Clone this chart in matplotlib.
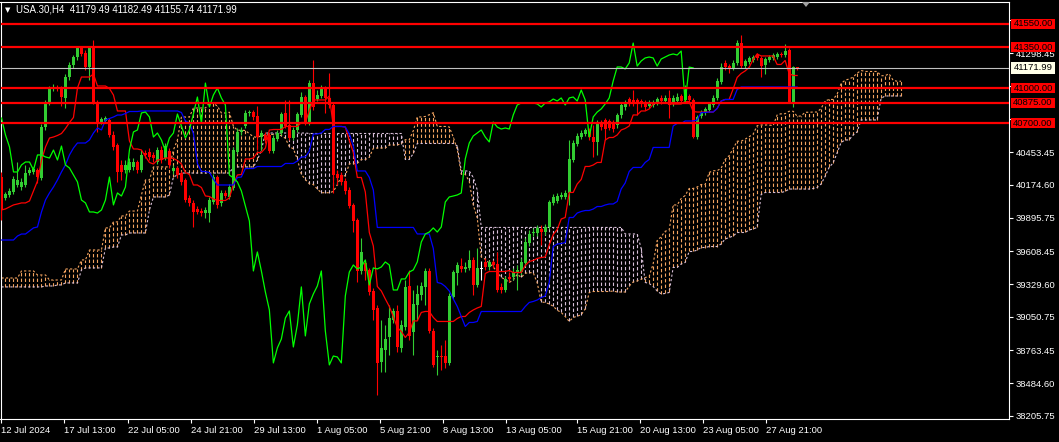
import numpy as np
import pandas as pd
import matplotlib
matplotlib.use("Agg")
import matplotlib.pyplot as plt
import matplotlib.transforms as mtransforms
from matplotlib.patches import Rectangle, Polygon

plt.rcParams['font.family'] = ['Liberation Sans', 'DejaVu Sans']

# USA.30 H4 bars
opens = [40242, 40063, 40089, 40114, 40174, 40157, 40174, 40276, 40285, 40302,
         40234, 40668, 40873, 40992, 41009, 41001, 40916, 41095, 41197, 41265,
         41342, 41299, 41180, 41350, 40882, 40711, 40720, 40728, 40600, 40515,
         40345, 40302, 40302, 40328, 40370, 40302, 40447, 40455, 40430, 40370,
         40472, 40404, 40464, 40293, 40319, 40276, 40217, 40063, 40021, 39970,
         39952, 39935, 39935, 40029, 40242, 40021, 40106, 40072, 40148, 40455,
         40626, 40677, 40788, 40796, 40762, 40583, 40600, 40600, 40464, 40566,
         40617, 40788, 40685, 40575, 40643, 40771, 40924, 40703, 41043, 40907,
         40933, 40992, 40916, 40856, 40268, 40259, 40208, 40131, 40004, 39876,
         39441, 39509, 39450, 39270, 39126, 38665, 38768, 38878, 39023, 39100,
         38785, 38964, 39313, 38921, 39151, 39236, 39305, 39441, 38930, 38708,
         38716, 38716, 38657, 39219, 39424, 39484, 39458, 39467, 39535, 39322,
         39458, 39518, 39475, 39518, 39501, 39305, 39279, 39390, 39390, 39424,
         39432, 39509, 39680, 39765, 39765, 39799, 39773, 39816, 40021, 40038,
         40072, 40072, 40106, 40387, 40524, 40583, 40609, 40634, 40583, 40541,
         40711, 40728, 40720, 40711, 40685, 40771, 40839, 40907, 40899, 40899,
         40890, 40873, 40847, 40856, 40873, 40916, 40890, 40916, 40865, 40890,
         40933, 40899, 40933, 40899, 40583, 40762, 40788, 40813, 40856, 40916,
         41052, 41214, 41188, 41171, 41214, 41384, 41188, 41222, 41240, 41282,
         41257, 41197, 41240, 41257, 41265, 41291, 41282, 41325, 40873, 41179.49]

closes = [39961, 40097, 40123, 40225, 40217, 40200, 40276, 40302, 40310, 40242,
          40668, 40882, 41001, 41009, 40992, 40924, 41095, 41197, 41265, 41350,
          41291, 41180, 41342, 40882, 40711, 40737, 40745, 40600, 40498, 40285,
          40285, 40345, 40370, 40370, 40302, 40430, 40430, 40413, 40404, 40472,
          40387, 40506, 40345, 40319, 40259, 40200, 40046, 40021, 39944, 39944,
          39935, 39961, 40046, 40242, 40004, 40106, 40080, 40157, 40472, 40626,
          40643, 40788, 40796, 40754, 40583, 40617, 40558, 40464, 40575, 40617,
          40779, 40677, 40575, 40643, 40779, 40924, 40703, 41043, 40839, 40941,
          41001, 40916, 40856, 40259, 40234, 40200, 40123, 39995, 39867, 39441,
          39603, 39441, 39262, 39109, 38657, 38785, 38861, 39040, 39100, 38793,
          38981, 39305, 38887, 39160, 39245, 39313, 39441, 38930, 38640, 38716,
          38708, 38657, 39228, 39432, 39492, 39458, 39475, 39535, 39322, 39467,
          39458, 39475, 39518, 39492, 39279, 39279, 39373, 39373, 39432, 39450,
          39518, 39688, 39756, 39773, 39808, 39773, 39816, 40029, 40072, 40080,
          40089, 40106, 40396, 40532, 40592, 40617, 40643, 40583, 40541, 40711,
          40668, 40651, 40660, 40651, 40771, 40856, 40873, 40873, 40873, 40873,
          40865, 40839, 40873, 40882, 40907, 40890, 40916, 40856, 40916, 40924,
          40890, 40984, 40899, 40583, 40754, 40796, 40822, 40865, 40916, 41061,
          41180, 41180, 41163, 41214, 41384, 41188, 41231, 41257, 41265, 41257,
          41188, 41248, 41265, 41282, 41291, 41282, 41316, 40882, 41179, 41171.99]

highs = [40285, 40114, 40148, 40251, 40370, 40234, 40345, 40328, 40328, 40319,
         40694, 40899, 41018, 41035, 41026, 41018, 41120, 41222, 41282, 41359,
         41359, 41325, 41359, 41410, 40899, 40754, 40762, 40745, 40634, 40532,
         40387, 40387, 40404, 40404, 40387, 40472, 40472, 40489, 40455, 40498,
         40506, 40532, 40489, 40345, 40336, 40293, 40234, 40089, 40046, 39995,
         39978, 39987, 40072, 40268, 40259, 40131, 40131, 40183, 40498, 40660,
         40668, 40813, 40813, 40813, 40847, 40643, 40626, 40617, 40600, 40643,
         40796, 40899, 40899, 40668, 40796, 40967, 40941, 41069, 41240, 40984,
         41026, 41018, 41129, 40882, 40302, 40285, 40234, 40157, 40021, 39893,
         39722, 39535, 39467, 39296, 39151, 39023, 38981, 39151, 39126, 39151,
         39023, 39364, 39450, 39279, 39322, 39347, 39467, 39467, 38955, 38768,
         38810, 38853, 39253, 39450, 39518, 39552, 39518, 39620, 39560, 39637,
         39526, 39552, 39535, 39535, 39603, 39339, 39398, 39432, 39467, 39492,
         39552, 39722, 39791, 39808, 39833, 39833, 39842, 40046, 40097, 40106,
         40114, 40131, 40558, 40558, 40617, 40643, 40660, 40660, 40685, 40728,
         40728, 40745, 40737, 40728, 40788, 40873, 40899, 40924, 40984, 40916,
         40907, 40899, 40899, 40899, 40924, 40941, 40941, 40984, 40941, 40958,
         40950, 41026, 40950, 40916, 40771, 40813, 40839, 40882, 40941, 41086,
         41214, 41240, 41205, 41240, 41410, 41453, 41248, 41274, 41282, 41299,
         41274, 41265, 41282, 41299, 41308, 41308, 41376, 41342, 41188, 41182.49]

lows = [39876, 40046, 40072, 40097, 40157, 40131, 40157, 40259, 40268, 40191,
        40217, 40643, 40856, 40975, 40975, 40847, 40830, 41069, 41171, 41240,
        41274, 41154, 41069, 40865, 40626, 40694, 40703, 40583, 40472, 40200,
        40217, 40276, 40285, 40302, 40276, 40285, 40404, 40387, 40370, 40353,
        40362, 40387, 40319, 40268, 40234, 40174, 40029, 39995, 39816, 39927,
        39910, 39893, 39859, 40012, 39978, 39995, 40063, 40055, 40131, 40438,
        40600, 40660, 40762, 40728, 40472, 40472, 40532, 40447, 40447, 40549,
        40600, 40660, 40558, 40558, 40626, 40754, 40685, 40685, 40813, 40890,
        40916, 40788, 40830, 40106, 40174, 40174, 40097, 39978, 39773, 39347,
        39415, 39364, 39236, 39023, 38384, 38580, 38580, 38725, 38998, 38751,
        38751, 38938, 38853, 38725, 39023, 39194, 39151, 38912, 38623, 38554,
        38597, 38614, 38640, 39202, 39322, 39432, 39432, 39450, 39236, 39305,
        39364, 39450, 39450, 39467, 39262, 39253, 39262, 39347, 39364, 39279,
        39407, 39484, 39654, 39739, 39739, 39663, 39748, 39799, 40004, 40021,
        40055, 40055, 40004, 40370, 40506, 40566, 40592, 40558, 40413, 40430,
        40643, 40558, 40643, 40626, 40660, 40745, 40813, 40847, 40847, 40771,
        40839, 40813, 40830, 40839, 40856, 40865, 40873, 40745, 40847, 40873,
        40873, 40882, 40882, 40575, 40566, 40745, 40771, 40796, 40839, 40899,
        41035, 41154, 41129, 41154, 41197, 41171, 41171, 41205, 41222, 41240,
        41095, 41120, 41222, 41240, 41248, 41265, 41265, 40873, 40839, 41155.74]

# indicator values before enough history is on screen
tenkan_early = [39961, 39970, 39987, 40004, 40012, 40021, 40021, 40038]
kijun_early = [39705, 39705, 39705, 39705, 39739, 39756, 39756, 39782, 39808, 39816,
               39944, 40046, 40106, 40157, 40217, 40285, 40345, 40430, 40489, 40532,
               40532, 40532, 40558, 40617, 40660]
spanA_early = [39381, 39381, 39381, 39381, 39381, 39441, 39441, 39441, 39441, 39407,
               39407, 39407, 39364, 39364, 39364, 39364, 39458, 39458, 39458, 39458,
               39535, 39535, 39620, 39620, 39620, 39620, 39808, 39808, 39859, 39859,
               39910, 39910, 39952, 39952, 39952, 40089, 40217, 40217, 40328, 40328,
               40328, 40328, 40328, 40472, 40558, 40754, 40754, 40754, 40830, 40830,
               40830]
spanB_early = [39305, 39305, 39305, 39305, 39305, 39305, 39305, 39305, 39305, 39305,
               39305, 39313, 39313, 39313, 39322, 39322, 39339, 39339, 39339, 39339,
               39450, 39467, 39467, 39467, 39467, 39467, 39637, 39637, 39646, 39646,
               39748, 39748, 39765, 39765, 39765, 39765, 39765, 39961, 40072, 40072,
               40072, 40072, 40089, 40242, 40259, 40276, 40276, 40276, 40276, 40276,
               40276, 40276, 40276, 40276, 40276, 40276, 40276, 40276, 40328, 40328,
               40328, 40328, 40328, 40328, 40387, 40472, 40617, 40617, 40617, 40617,
               40617, 40617, 40617, 40617, 40617, 40617, 40617]

levels = [41550.00, 41350.00, 41000.00, 40875.00, 40700.00]
last_price = 41171.99
title = "USA.30,H4  41179.49 41182.49 41155.74 41171.99"

# scale marks; the ones sitting under the level boxes get no text
price_ticks = [41577.30, 41298.45, 41017.30, 40735.30, 40453.45, 40174.60, 39895.75,
               39608.45, 39329.60, 39050.75, 38763.45, 38484.60, 38205.75]
hidden_ticks = [41577.30, 41017.30, 40735.30]
time_labels = ["12 Jul 2024", "17 Jul 13:00", "22 Jul 05:00", "24 Jul 21:00",
               "29 Jul 13:00", "1 Aug 05:00", "5 Aug 21:00", "8 Aug 13:00",
               "13 Aug 05:00", "15 Aug 21:00", "20 Aug 13:00", "23 Aug 05:00",
               "27 Aug 21:00"]
time_ticks = [0, 15.75, 31.75, 47.5, 63.25, 79, 94.75, 110.5, 126.25, 144,
              159.75, 175.5, 191.25]

# ---- ichimoku 9/26/52 ----
n = len(closes)
H = pd.Series(highs, dtype=float)
L = pd.Series(lows, dtype=float)
C = pd.Series(closes, dtype=float)
tenkan = ((H.rolling(9).max() + L.rolling(9).min()) / 2).values
kijun = ((H.rolling(26).max() + L.rolling(26).min()) / 2).values
tenkan[:len(tenkan_early)] = tenkan_early
kijun[:len(kijun_early)] = kijun_early
senkou_b = ((H.rolling(52).max() + L.rolling(52).min()) / 2).values

spanA = np.full(n + 26, np.nan)
spanB = np.full(n + 26, np.nan)
spanA[26:] = (tenkan + kijun) / 2
spanB[26:] = senkou_b
spanA[:len(spanA_early)] = spanA_early
spanB[:len(spanB_early)] = spanB_early
xc = np.arange(n + 26)

# ---- figure ----
W, Hpx = 1059, 442
fig = plt.figure(figsize=(W / 100, Hpx / 100), dpi=100, facecolor='black')
ax = fig.add_axes([0.5 / W, 1 - 419 / Hpx, 1008.5 / W, 417 / Hpx])
ax.set_facecolor('black')
ax.set_xlim(-0.25, 252)
ax.set_ylim(38179, 41734)

# cloud hatch
bull = spanA >= spanB
cols = np.where(bull, '#F4A460', '#D8BFD8')
ok = ~np.isnan(spanA) & ~np.isnan(spanB)
ax.vlines(xc[ok], np.minimum(spanA, spanB)[ok], np.maximum(spanA, spanB)[ok],
          colors=cols[ok], linestyles=(0, (3, 2)), lw=0.8, zorder=1)
ax.plot(xc, spanA, color='#F4A460', ls=(0, (2, 2)), lw=0.8, zorder=1.5)
ax.plot(xc, spanB, color='#D8BFD8', ls=(0, (2, 2)), lw=0.8, zorder=1.5)

# candles
o = np.array(opens); c = np.array(closes); h = np.array(highs); l = np.array(lows)
x = np.arange(n)
ccol = np.where(c > o, '#32CD32', np.where(c < o, '#FF0000', '#FFFFFF'))
ax.vlines(x, l, h, colors=ccol, lw=0.8, zorder=3)
body = np.maximum(np.abs(c - o), 7)
ax.bar(x, body, bottom=np.minimum(o, c), width=0.75, color=ccol, lw=0, zorder=3)

# lines
ax.plot(x, tenkan, color='#FF0000', lw=0.9, zorder=4)
ax.plot(x, kijun, color='#0000FF', lw=0.9, zorder=4)
ax.plot(x[:-26], C.values[26:], color='#00FF00', lw=0.9, zorder=4)

ax.axhline(last_price, color='#C0C0C0', lw=0.8, zorder=5)
for lv in levels:
    ax.axhline(lv, color='#FF0000', lw=1.6, zorder=6)

# axes styling
for s in ax.spines.values():
    s.set_color('white')
    s.set_linewidth(0.8)
ax.yaxis.tick_right()
ax.set_yticks(price_ticks)
ax.set_yticklabels(["" if p in hidden_ticks else f"{p:.2f}" for p in price_ticks])
ax.set_xticks(time_ticks)
ax.set_xticklabels(time_labels, ha='left')
ax.tick_params(colors='white', labelsize=6.8, length=3, width=0.8, pad=2)

# price labels on the right, drawn on the figure so they sit above the scale
tr = mtransforms.blended_transform_factory(fig.transFigure, ax.transData)
bh = 10 * 8.524
for lv in levels:
    fig.add_artist(Rectangle((1011 / W, lv - bh / 2), 44 / W, bh, transform=tr,
                             facecolor='#FF0000', edgecolor='none', zorder=8))
    fig.text(1033 / W, lv, f"{lv:.2f}", transform=tr, ha='center', va='center',
             fontsize=6.8, color='black', zorder=9)
fig.add_artist(Rectangle((1011 / W, last_price - bh / 2 - 6), 44 / W, bh + 12, transform=tr,
                         facecolor='#FFFFE8', edgecolor='none', zorder=8))
fig.text(1033 / W, last_price, f"{last_price:.2f}", transform=tr, ha='center',
         va='center', fontsize=6.8, color='black', zorder=9)

# header
fig.text(5 / W, 1 - 10 / Hpx, "\u25BC", color='white', fontsize=5, va='center',
         family='DejaVu Sans')
fig.text(16 / W, 1 - 10 / Hpx, title, color='white', fontsize=7, va='center')
fig.add_artist(Polygon([[802 / W, 1 - 2 / Hpx], [810 / W, 1 - 2 / Hpx],
                        [806 / W, 1 - 7 / Hpx]], closed=True, transform=fig.transFigure,
                       facecolor='#A0A0A0', edgecolor='none'))

fig.savefig('out.png', dpi=100, facecolor='black')
